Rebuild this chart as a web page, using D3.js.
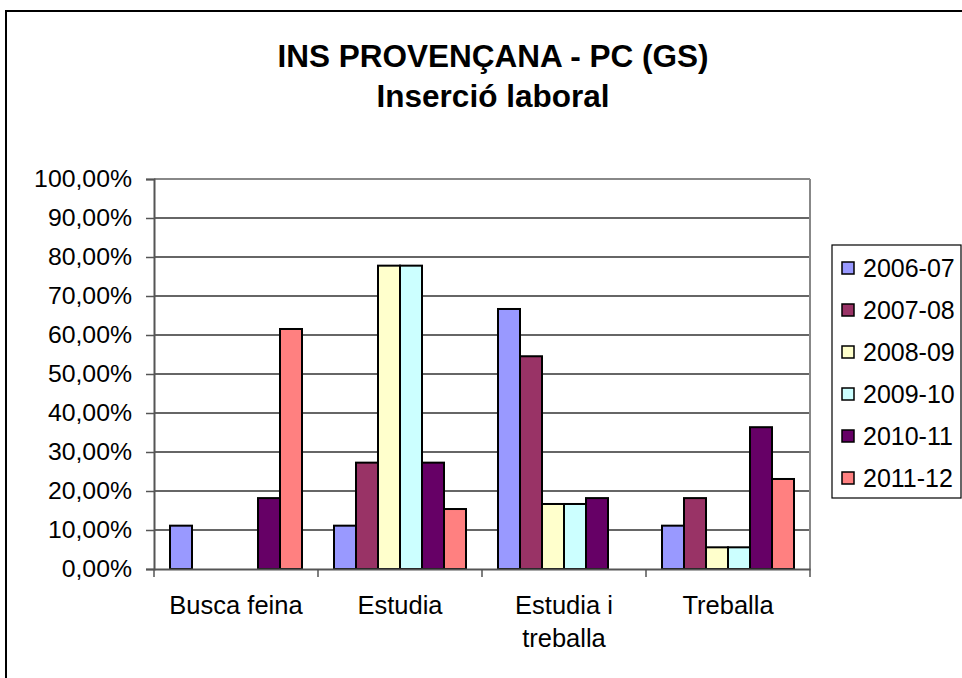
<!DOCTYPE html>
<html><head><meta charset="utf-8">
<script src="https://cdn.jsdelivr.net/npm/d3@7"></script>
<style>body{margin:0;background:#fff;} svg{display:block;}</style>
</head><body>
<svg id="c" width="962" height="678"></svg>
<script>
const categories = ["Busca feina", "Estudia", "Estudia i treballa", "Treballa"];
const categoryLines = [["Busca feina"], ["Estudia"], ["Estudia i", "treballa"], ["Treballa"]];
const seriesNames = ["2006-07", "2007-08", "2008-09", "2009-10", "2010-11", "2011-12"];
const s2006 = [11.11, 11.11, 66.67, 11.11];
const s2007 = [0, 27.27, 54.55, 18.18];
const s2008 = [0, 77.78, 16.67, 5.56];
const s2009 = [0, 77.78, 16.67, 5.56];
const s2010 = [18.18, 27.27, 18.18, 36.36];
const s2011 = [61.54, 15.38, 0, 23.08];
const seriesValues = [s2006, s2007, s2008, s2009, s2010, s2011];
const colors = ["#9999FF", "#993366", "#FFFFCC", "#CCFFFF", "#660066", "#FF8080"];
const yTicks = [0,10,20,30,40,50,60,70,80,90,100];
const titleLines = ["INS PROVENÇANA - PC (GS)", "Inserció laboral"];

const svg = d3.select("#c");
const font = "'Liberation Sans', Arial, sans-serif";

// outer chart border
svg.append("rect").attr("x", 6).attr("y", 11).attr("width", 1000).attr("height", 700)
  .attr("fill", "#fff").attr("stroke", "#000").attr("stroke-width", 2);

const L = 154, R = 810, T = 179, B = 569;
const x = d3.scaleBand().domain(categories).range([L, R]).paddingInner(0).paddingOuter(0);
const xs = d3.scaleBand().domain(seriesNames).range([16, x.bandwidth() - 16]).padding(0);
const y = d3.scaleLinear().domain([0, 100]).range([B, T]);

// gridlines
svg.append("g").selectAll("line").data(yTicks.filter(t => t > 0)).join("line")
  .attr("x1", L).attr("x2", R).attr("y1", d => y(d)).attr("y2", d => y(d))
  .attr("stroke", d => d === 100 ? "#888" : "#333").attr("stroke-width", d => d === 100 ? 2 : 1.3);
// right border
svg.append("line").attr("x1", R).attr("x2", R).attr("y1", T).attr("y2", B)
  .attr("stroke", "#888").attr("stroke-width", 2);

// bars
const flat = [];
seriesValues.forEach((vals, si) => vals.forEach((v, ci) => { if (v > 0) flat.push({s: seriesNames[si], si, c: categories[ci], v}); }));
svg.append("g").selectAll("rect").data(flat).join("rect")
  .attr("x", d => x(d.c) + xs(d.s)).attr("width", xs.bandwidth())
  .attr("y", d => y(d.v)).attr("height", d => y(0) - y(d.v))
  .attr("fill", d => colors[d.si]).attr("stroke", "#000").attr("stroke-width", 2);

// y axis
const yAxis = d3.axisLeft(y).tickValues(yTicks).tickSize(8).tickPadding(14)
  .tickFormat(d => d3.format(".2f")(d).replace(".", ",") + "%");
const gy = svg.append("g").attr("transform", `translate(${L},0)`).call(yAxis);
gy.select(".domain").attr("stroke", "#555").attr("stroke-width", 2);
gy.selectAll(".tick line").attr("stroke", "#555").attr("stroke-width", 1.5);
gy.selectAll("text").attr("font-family", font).attr("font-size", 24.8).attr("fill", "#000");

// x axis
const xAxis = d3.axisBottom(x).tickSize(0).tickFormat("");
const gx = svg.append("g").attr("transform", `translate(0,${B})`).call(xAxis);
gx.select(".domain").attr("stroke", "#555").attr("stroke-width", 2);
gx.selectAll(".tick").remove();
const bounds = categories.map(c => x(c)).concat([R]);
gx.selectAll("line.bt").data(bounds).join("line").attr("class", "bt")
  .attr("x1", d => d).attr("x2", d => d).attr("y1", 0).attr("y2", 8)
  .attr("stroke", "#555").attr("stroke-width", 1.5);
const xl = svg.append("g").selectAll("text").data(categories).join("text")
  .attr("x", d => x(d) + x.bandwidth() / 2).attr("y", 614)
  .attr("text-anchor", "middle").attr("font-family", font).attr("font-size", 25.5).attr("fill", "#000");
xl.each(function(d, i) {
  const t = d3.select(this);
  categoryLines[i].forEach((ln, k) => t.append("tspan").attr("x", x(d) + x.bandwidth() / 2).attr("dy", k === 0 ? 0 : 33).text(ln));
});

// title
svg.append("g").selectAll("text").data(titleLines).join("text")
  .attr("x", 493).attr("y", (d, i) => i === 0 ? 67 : 107)
  .attr("text-anchor", "middle").attr("font-family", font).attr("font-weight", "bold")
  .attr("font-size", 31.5).attr("fill", "#000").text(d => d);

// legend
const lg = svg.append("g");
lg.append("rect").attr("x", 832).attr("y", 245).attr("width", 129).attr("height", 253)
  .attr("fill", "#fff").attr("stroke", "#000").attr("stroke-width", 1.2);
const ly = d3.scalePoint().domain(seriesNames).range([268, 478]);
const items = lg.selectAll("g.it").data(seriesNames).join("g").attr("class", "it")
  .attr("transform", d => `translate(842,${ly(d)})`);
items.append("rect").attr("x", 0).attr("y", -6).attr("width", 12).attr("height", 12)
  .attr("fill", (d, i) => colors[i]).attr("stroke", "#000").attr("stroke-width", 1.5);
items.append("text").attr("x", 21).attr("y", 0).attr("dy", "0.36em")
  .attr("font-family", font).attr("font-size", 25).attr("fill", "#000").text(d => d);
</script>
</body></html>
